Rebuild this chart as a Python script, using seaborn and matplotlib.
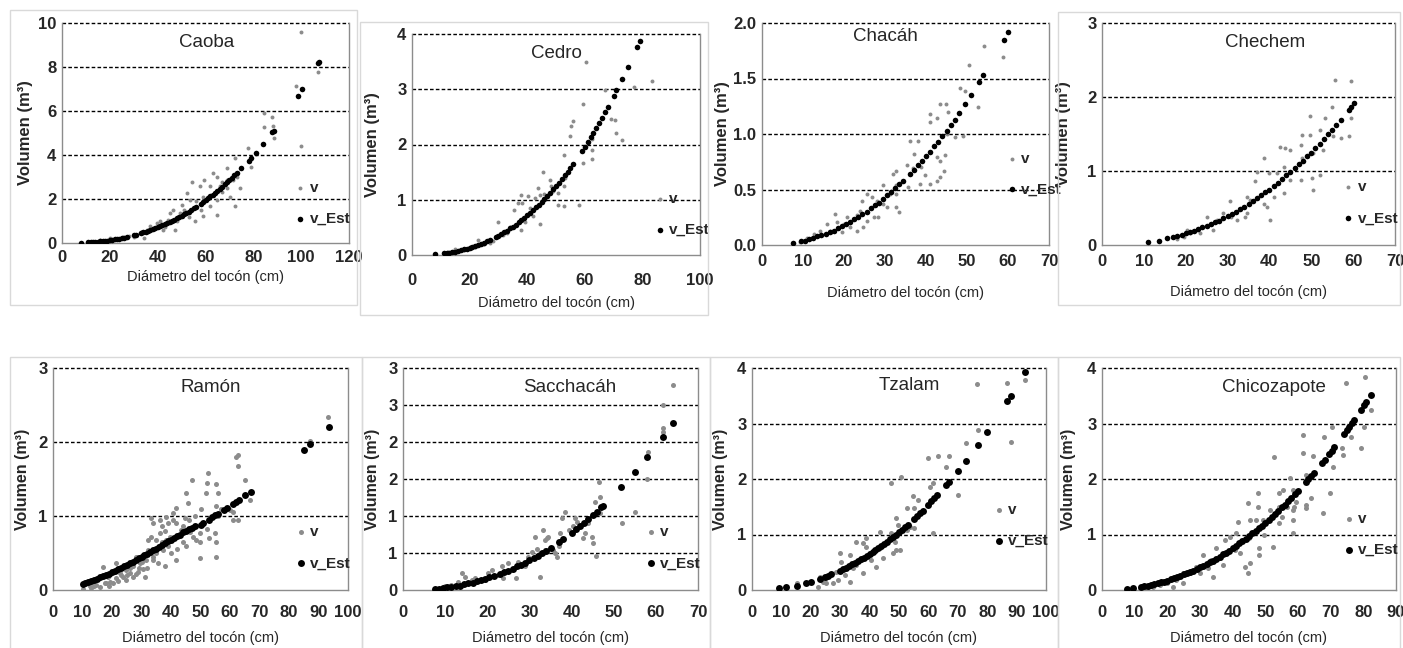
import seaborn as sns
import matplotlib.pyplot as plt
from matplotlib.patches import Rectangle

sns.set_style("white")
plt.rcParams['font.family'] = ['Liberation Sans', 'DejaVu Sans']

# ---------------- Caoba
caoba_d = [100.1, 107.1, 98, 100.1, 88.3, 88, 84.6, 88.6, 84.6, 77.9, 78.9, 74.4, 72.3, 68.8, 68.8, 72.3,
           70.2, 64.7, 61.9, 59.4, 59.1, 63.3, 66.1, 54.2, 53.5, 52.2, 55.6, 50.1, 52.2, 46.6, 44.5, 42.4,
           41, 36.9, 32.7, 34.1, 35.5, 39.6, 47.3, 45.2, 49.4, 57.7, 61.2, 64.7, 66.8, 71.6, 59.1, 25.7,
           23, 16, 20.2, 28, 30, 33, 38, 40, 43, 48, 51, 53, 56, 58, 62, 65, 67, 69, 73, 12, 14, 18]
caoba_v = [9.59, 7.78, 7.13, 4.41, 5.32, 5.74, 5.89, 4.76, 5.29, 4.3, 3.47, 2.49, 3.85, 3.4, 2.87, 1.66,
           2.11, 1.28, 1.66, 2.87, 2.11, 3.17, 2.57, 2.79, 1.96, 2.27, 0.98, 1.74, 1.36, 1.51, 1.06, 0.6,
           0.98, 0.76, 0.45, 0.23, 0.6, 0.91, 0.6, 1.36, 1.36, 2.57, 2.11, 1.96, 2.79, 2.87, 1.21, 0.27,
           0.18, 0.12, 0.23, 0.3, 0.28, 0.5, 0.65, 0.8, 0.75, 1.0, 1.5, 1.2, 1.9, 1.5, 2.6, 3.0, 2.3, 2.5,
           3.0, 0.02, 0.05, 0.09]
caoba_est_d = [8, 11, 12, 13, 14, 15, 16, 17, 18, 19, 20, 21, 22, 23, 24, 25, 26, 27, 30, 31,
               33, 34, 35, 36, 37, 38, 39, 40, 41, 42, 43, 44, 45, 46, 47, 48, 49, 50, 51, 52, 53, 54, 55, 56,
               58, 59, 60, 61, 62, 63, 64, 65, 66, 67, 68, 69, 70, 71, 72, 73,
               75, 78, 79, 81, 84, 88, 88.5, 98.5, 100.5, 107, 107.3]
caoba_est_v = [0.01, 0.03, 0.04, 0.04, 0.05, 0.06, 0.07, 0.09, 0.10, 0.11, 0.13, 0.14, 0.16, 0.18, 0.20,
               0.22, 0.25, 0.27, 0.35, 0.38,
               0.44, 0.48, 0.51, 0.55, 0.59, 0.63, 0.67, 0.71, 0.76, 0.81, 0.85, 0.90, 0.96, 1.01, 1.06,
               1.12, 1.18, 1.24, 1.30, 1.37, 1.43, 1.50, 1.57, 1.64,
               1.79, 1.87, 1.95, 2.03, 2.12, 2.20, 2.29, 2.38, 2.47, 2.56, 2.66, 2.76, 2.86, 2.96, 3.07, 3.17,
               3.39, 3.74, 3.86, 4.11, 4.49, 5.04, 5.11, 6.67, 7.01, 8.19, 8.25]

# ---------------- Cedro
cedro_d = [60.3, 83.2, 77.1, 67, 59.4, 69.1, 70.5, 71, 72.8, 62.6, 62.6, 62.6, 59.4, 56, 55.2, 54.8,
           52.8, 53, 52.8, 50.7, 50.7, 52.8, 58, 45.5, 47.9, 43.6, 44.4, 42.6, 40.3, 38, 36.8, 35.4,
           38.1, 42, 44.4, 39.4, 37.8, 32.4, 29.9, 31.6, 28.2, 23, 20, 14.8, 12.5, 48.2,
           18, 22, 25, 27, 33, 34, 36, 41, 46, 49]
cedro_v = [3.5, 3.15, 3.04, 2.99, 2.73, 2.46, 2.45, 2.2, 2.08, 2.1, 1.9, 1.73, 1.66, 2.42, 2.34, 2.16,
           1.81, 1.39, 1.24, 1.12, 0.91, 0.89, 0.91, 1.51, 1.36, 1.22, 1.09, 1.03, 1.06, 1.09, 0.94, 0.82,
           0.94, 0.71, 0.57, 0.59, 0.45, 0.42, 0.6, 0.36, 0.26, 0.28, 0.15, 0.10, 0.06, 1.24,
           0.09, 0.15, 0.2, 0.22, 0.4, 0.5, 0.55, 0.85, 1.1, 1.15]
cedro_est_d = [8, 11, 12, 13, 14, 15, 16, 17, 18, 19, 20, 21, 22, 23, 24, 25, 26, 27,
               29, 30, 31, 32, 33, 34, 35, 36, 37, 38, 39, 40, 41, 42, 43, 44, 45, 46, 47, 48, 49, 50,
               51, 52, 53, 54, 55, 56,
               59, 60, 61, 62, 63, 64, 65, 66, 67, 68, 70, 71, 73, 75, 78, 79]
cedro_est_v = [0.01, 0.03, 0.04, 0.04, 0.05, 0.06, 0.07, 0.09, 0.10, 0.11, 0.13, 0.15, 0.16, 0.18, 0.20,
               0.22, 0.25, 0.27,
               0.32, 0.35, 0.38, 0.41, 0.44, 0.48, 0.51, 0.55, 0.59, 0.63, 0.67, 0.72, 0.76, 0.81, 0.86,
               0.91, 0.96, 1.01, 1.07, 1.13, 1.19, 1.25, 1.31, 1.37, 1.44, 1.51, 1.58, 1.65,
               1.88, 1.96, 2.04, 2.13, 2.21, 2.30, 2.39, 2.48, 2.58, 2.67, 2.87, 2.98, 3.19, 3.41, 3.76, 3.88]

# ---------------- Chacáh
chacah_d = [58.8, 54.1, 50.5, 52.7, 48.3, 49.5, 49.1, 47, 44.4, 44.6,
            45.2, 44.9, 42.6, 41, 41, 43.4, 45.4, 38.1, 37.1, 36.1,
            38.9, 39.7, 41, 42.6, 43.4, 43.4, 42.6, 32.8, 31.9, 32.8,
            33.3, 32.8, 31.2, 29.6, 28, 26.8, 25.5, 24.3, 23.8, 23.1,
            25.5, 27.2, 20.7, 19.9, 18.2, 17.8, 15.8, 14.2, 16.6, 21.5,
            23.1, 12.6, 10.9, 9.3, 32.8, 29.6, 35.7, 35.3, 36.9, 38.5,
            28.4, 30.4, 24.7, 19.5]
chacah_v = [1.69, 1.79, 1.62, 1.24, 1.41, 1.39, 0.98, 0.97, 0.67, 0.81,
            1.0, 1.27, 1.14, 1.18, 1.11, 1.27, 1.2, 0.94, 0.82, 0.94,
            0.70, 0.63, 0.55, 0.58, 0.61, 0.76, 0.79, 0.67, 0.64, 0.54,
            0.3, 0.34, 0.46, 0.37, 0.4, 0.43, 0.46, 0.4, 0.31, 0.27,
            0.22, 0.25, 0.25, 0.19, 0.21, 0.28, 0.19, 0.13, 0.13, 0.16,
            0.13, 0.1, 0.06, 0.03, 0.46, 0.54, 0.52, 0.72, 0.69, 0.55,
            0.25, 0.34, 0.16, 0.12]
chacah_est_d = [7.5, 9.5, 10.5, 11.5, 12.5, 13.5, 14.5, 15.5, 16.5, 17.5, 18.5, 19.5, 20.5, 21.5, 22.5,
                23.5, 24.5, 25.5, 26.5, 27.5, 28.5, 29.5, 30.5, 31.5, 32.5, 33.5, 34.5,
                36, 37, 38, 39, 40, 41, 42, 43, 44, 45, 46, 47, 48,
                49.5, 51, 53, 54, 59, 60]
chacah_est_v = [0.02, 0.04, 0.04, 0.05, 0.06, 0.08, 0.09, 0.10, 0.12, 0.13, 0.15, 0.17, 0.19, 0.21, 0.23,
                0.25, 0.28, 0.30, 0.33, 0.36, 0.38, 0.41, 0.45, 0.48, 0.51, 0.55, 0.58,
                0.64, 0.68, 0.72, 0.76, 0.80, 0.84, 0.89, 0.93, 0.98, 1.03, 1.08, 1.13, 1.19,
                1.27, 1.35, 1.47, 1.53, 1.85, 1.92]

# ---------------- Chechem
chechem_d = [55.7, 59.4, 54.9, 59.4, 49.7, 53.3, 52, 55.3, 58.9, 57.1,
             49.7, 52.9, 50.5, 47.7, 47.5, 47.7, 47.5, 50.5, 52, 50.1,
             42.6, 43.8, 45, 38.8, 39.8, 37, 41, 39.4, 38.6, 40.2,
             43.4, 45, 43.4, 36.6, 34.6, 33.8, 34.6, 34.2, 30.6, 29,
             30.9, 27.4, 25.9, 25.1, 23.9, 22.7, 21.1, 19.5, 17.9, 20.3,
             23.5, 26.6, 32.2, 35.4, 41.8]
chechem_v = [2.23, 2.22, 1.86, 1.72, 1.75, 1.72, 1.56, 1.47, 1.47, 1.44,
             1.49, 1.29, 1.24, 1.49, 1.35, 1.17, 0.88, 0.74, 0.95, 0.9,
             1.33, 1.31, 1.29, 1.17, 0.97, 0.99, 0.65, 0.52, 0.56, 0.34,
             0.70, 0.88, 1.06, 0.86, 0.65, 0.52, 0.43, 0.38, 0.59, 0.43,
             0.38, 0.34, 0.29, 0.38, 0.25, 0.20, 0.16, 0.11, 0.08, 0.20,
             0.16, 0.20, 0.34, 0.61, 0.97]
chechem_est_d = [11, 13.5, 15.5, 17, 18, 19, 20, 21, 22, 23, 24, 25, 26, 27, 28, 29, 30, 31, 32, 33, 34,
                 35, 36, 37, 38, 39, 40, 41, 42, 43, 44, 45, 46, 47, 48, 49, 50, 51, 52, 53, 54, 55, 56,
                 57, 59, 59.5, 60.3]
chechem_est_v = [0.04, 0.06, 0.09, 0.11, 0.12, 0.14, 0.16, 0.17, 0.19, 0.21, 0.24, 0.26, 0.28, 0.31, 0.33,
                 0.36, 0.39, 0.42, 0.45, 0.49, 0.52, 0.56, 0.59, 0.63, 0.67, 0.71, 0.75, 0.80, 0.84, 0.89,
                 0.94, 0.99, 1.04, 1.09, 1.14, 1.20, 1.25, 1.31, 1.37, 1.43, 1.50, 1.56, 1.62, 1.69,
                 1.83, 1.86, 1.92]

# ---------------- Ramón
ramon_d = [93.2, 87, 62.1, 62.7, 62.7, 65, 66.7, 62.7, 61, 52.5,
           52.2, 51.8, 55.4, 55.9, 55.4, 55.4, 55.4, 54.8, 52.1, 49.7,
           49.7, 47.2, 45.2, 45.8, 44.6, 44.1, 46.3, 41.8, 40.7, 41.8,
           41.8, 39.5, 39, 40.1, 37.9, 37.3, 38.4, 36.2, 36.2, 35,
           33.9, 33.3, 32.2, 32.2, 35, 33.9, 35.6, 31.6, 30.5, 28.2,
           29.4, 27.1, 26, 27.1, 24.9, 23.7, 21.5, 21.5, 19.2, 16.9,
           17.5, 14.7, 12.4, 10.2, 11.3, 15.3, 18.6, 20.3, 22.6, 24.9,
           28.8, 31.1, 33.3, 36.8, 38.4, 40.7, 43.5, 47.5, 33.3, 45.2,
           49.7, 54.2, 59.9, 61, 48.6,
           13, 14, 16, 18, 19, 22, 23, 25, 26, 28, 29, 30, 32,
           34, 36, 37, 38, 39, 42, 44, 46, 48, 50, 53, 56, 57]
ramon_v = [2.34, 2.02, 1.80, 1.83, 1.67, 1.49, 1.22, 0.95, 1.06, 1.58,
           1.44, 1.31, 1.43, 1.31, 1.13, 0.65, 0.45, 0.77, 0.83, 0.65,
           0.43, 1.49, 1.31, 1.17, 0.97, 0.86, 0.79, 1.11, 0.95, 0.90,
           0.41, 0.72, 0.59, 0.50, 0.32, 0.54, 0.68, 0.95, 0.77, 0.68,
           0.90, 0.72, 0.68, 0.54, 0.50, 0.41, 0.36, 0.41, 0.29, 0.45,
           0.36, 0.32, 0.23, 0.18, 0.27, 0.18, 0.36, 0.16, 0.11, 0.31,
           0.09, 0.07, 0.05, 0.02, 0.09, 0.16, 0.18, 0.09, 0.23, 0.14,
           0.25, 0.18, 0.50, 0.86, 0.99, 1.04, 0.81, 0.72, 0.97, 0.59,
           0.77, 0.99, 1.08, 0.95, 0.68,
           0.03, 0.06, 0.04, 0.1, 0.05, 0.12, 0.2, 0.2, 0.3, 0.22, 0.3, 0.38, 0.3,
           0.45, 0.6, 0.65, 0.8, 0.9, 0.55, 0.65, 0.95, 1.0, 1.1, 0.7, 1.0, 1.1]
ramon_est_d = [10, 11, 12, 13, 14, 15, 16, 17, 18, 19, 20, 21, 22, 23, 24, 25, 26, 27, 28, 29,
               30, 31, 32, 33, 34, 35, 36, 37, 38, 39, 40, 41, 42, 43, 44, 45, 46, 47, 48,
               50, 51, 53, 54, 55, 56, 58, 59, 61, 62, 63, 65, 67, 85, 87, 93.5]
ramon_est_v = [0.08, 0.09, 0.11, 0.12, 0.14, 0.15, 0.17, 0.19, 0.20, 0.22,
               0.24, 0.26, 0.28, 0.30, 0.32, 0.34, 0.36, 0.38, 0.40, 0.43,
               0.45, 0.47, 0.49, 0.51, 0.54, 0.56, 0.58, 0.61, 0.63, 0.66,
               0.68, 0.70, 0.73, 0.75, 0.78, 0.80, 0.82, 0.84, 0.86,
               0.88, 0.91, 0.95, 0.98, 1.01, 1.03, 1.08, 1.11, 1.16, 1.19, 1.21, 1.28, 1.33, 1.89, 1.97, 2.20]

# ---------------- Sacchacáh
sacchacah_d = [64, 61.8, 61.8, 61.6, 58.1, 57.9, 55, 51.9, 46.4, 46.8,
               46.8, 45.6, 45.8, 44.8, 45, 42.8, 40.8, 41.2, 40.8, 38.5,
               37.7, 37.3, 36.9, 36.5, 35.7, 34.3, 33.7, 33.7, 32.5, 31.3,
               31.7, 30.5, 29.7, 28.9, 27.4, 26.9, 25.8, 25, 23.4, 23.8,
               22.6, 21, 20.2, 19.4, 17, 16.3, 14.7, 13.9, 13.1, 11.5,
               9.9, 32.5, 34.1, 33.3, 36.1, 39.3, 40.4, 43.2, 44]
sacchacah_v = [2.77, 2.50, 2.19, 2.14, 1.86, 1.50, 1.06, 0.90, 1.46, 1.26,
               1.04, 1.19, 0.46, 0.72, 0.63, 0.70, 0.97, 0.92, 0.81, 1.06,
               0.97, 0.77, 0.59, 0.45, 0.54, 0.72, 0.68, 0.54, 0.50, 0.72,
               0.56, 0.52, 0.45, 0.32, 0.38, 0.16, 0.27, 0.36, 0.32, 0.16,
               0.20, 0.27, 0.23, 0.14, 0.16, 0.14, 0.18, 0.23, 0.11, 0.07,
               0.05, 0.18, 0.70, 0.81, 0.50, 0.81, 0.86, 0.77, 0.90]
sacchacah_est_d = [7.5, 8.5, 9.5, 10.5, 11.5, 12.5, 13.5, 14.5, 15.5, 16.5, 17.5, 18.5, 19.5, 20.5, 21.5,
                   23, 24, 25, 26, 27, 28, 29, 30, 31, 32, 33, 34, 35, 37, 38,
                   40, 41, 42, 43, 44, 45, 46, 47, 47.5, 51.8, 55, 58, 61.6, 64]
sacchacah_est_v = [0.02, 0.02, 0.03, 0.04, 0.04, 0.05, 0.06, 0.08, 0.09, 0.10, 0.12, 0.13, 0.15, 0.17, 0.19,
                   0.22, 0.24, 0.26, 0.29, 0.32, 0.34, 0.37, 0.40, 0.43, 0.46, 0.50, 0.53, 0.57, 0.65, 0.69,
                   0.77, 0.82, 0.86, 0.91, 0.96, 1.01, 1.06, 1.12, 1.14, 1.39, 1.60, 1.80, 2.07, 2.26]

# ---------------- Tzalam
tzalam_d = [76.7, 86.8, 92.8, 88.1, 77, 72.8, 67.1, 66, 63.3, 59.9,
            60.5, 61.6, 69.9, 61.4, 47.4, 50.8, 54.8, 56.5, 55, 52.6,
            53.7, 52.6, 55, 49.1, 49.7, 47.4, 48.6, 49.1, 48, 50.3,
            43.5, 43.5, 42.3, 44.6, 40.1, 38.9, 38.9, 37.6, 35.5, 33.3,
            35.5, 37.8, 33.3, 31.6, 30.4, 29.9, 29.3, 27.6, 25.3, 24.2,
            22.5, 25.3, 23, 19.6, 15.3, 11.5, 28.7, 34.4, 37.2, 40.6]
tzalam_v = [3.71, 3.73, 3.78, 2.67, 2.89, 2.64, 2.41, 2.22, 2.41, 2.38,
            1.86, 1.92, 1.71, 1.03, 1.93, 2.04, 1.70, 1.62, 1.47, 1.47,
            1.14, 1.08, 1.11, 1.29, 1.17, 1.02, 0.87, 0.72, 0.66, 0.72,
            1.05, 0.75, 0.42, 0.57, 0.66, 0.78, 0.93, 0.84, 0.87, 0.63,
            0.45, 0.30, 0.15, 0.27, 0.51, 0.66, 0.18, 0.12, 0.12, 0.15,
            0.06, 0.21, 0.24, 0.15, 0.12, 0.06, 0.33, 0.39, 0.54, 0.54]
tzalam_est_d = [9.2, 11.5, 15.3, 18.5, 20.2, 23, 24.7, 25.9, 27,
                30, 31, 32, 33, 34, 35, 36, 37, 38, 39, 40, 41, 42, 43, 44, 45, 46, 47, 48, 49, 50, 51, 52, 53,
                55, 56, 57, 58, 60, 61, 62, 63, 66, 67, 70.1, 72.7, 76.9, 79.8, 86.8, 88, 92.8]
tzalam_est_v = [0.03, 0.05, 0.08, 0.12, 0.15, 0.20, 0.23, 0.26, 0.28,
                0.35, 0.38, 0.40, 0.43, 0.46, 0.49, 0.52, 0.55, 0.58, 0.61, 0.65, 0.68, 0.72, 0.76, 0.80,
                0.83, 0.87, 0.92, 0.96, 1.00, 1.04, 1.09, 1.14, 1.18,
                1.28, 1.33, 1.38, 1.43, 1.54, 1.60, 1.65, 1.71, 1.89, 1.95, 2.15, 2.33, 2.62, 2.84, 3.40,
                3.50, 3.92]

# ---------------- Chicozapote
chicozapote_d = [74.8, 80.4, 82.2, 80.2, 79.2, 76.1, 73.8, 73.6, 70.4, 68,
                 70.6, 69.7, 67.5, 61.4, 61.4, 64.5, 62.4, 64, 62.4, 62.4,
                 57.6, 58.4, 59.4, 58.8, 58.4, 58.4, 58.6, 54.1, 55.3, 54.3,
                 55.1, 54.3, 52.5, 52.3, 49.7, 47.7, 47.7, 47.2, 48, 48,
                 45.2, 44.7, 45, 45.2, 44.7, 43.7, 41.6, 41.1, 42.1, 39.1,
                 37.6, 38.1, 37.1, 35, 33.5, 34, 31, 30, 28.9, 26.9,
                 24.9, 24.9, 22.8, 21.8, 19.8, 17.8, 15.7, 13.7, 11.7, 32.5,
                 36, 40.6, 49.2, 51.3, 56.5]
chicozapote_v = [3.73, 3.83, 3.25, 2.93, 2.55, 2.76, 2.43, 2.55, 2.93, 2.76,
                 2.22, 1.74, 1.38, 2.79, 2.47, 2.41, 2.07, 1.65, 1.53, 1.47,
                 2.01, 1.81, 1.59, 1.50, 1.44, 1.26, 1.02, 1.74, 1.80, 1.50,
                 1.32, 1.20, 2.39, 0.78, 0.99, 1.74, 1.50, 1.26, 0.75, 0.63,
                 1.26, 1.56, 0.93, 0.48, 0.30, 0.42, 1.23, 1.02, 0.66, 0.96,
                 0.90, 0.66, 0.45, 0.75, 0.54, 0.24, 0.63, 0.30, 0.42, 0.30,
                 0.12, 0.30, 0.18, 0.06, 0.12, 0.09, 0.06, 0.03, 0.03, 0.39,
                 0.57, 0.72, 1.26, 1.44, 1.50]
chicozapote_est_d = [7.8, 9.6, 12, 13, 14, 15, 16, 17, 18, 19, 20, 21, 22, 23, 24, 25, 26, 27, 28, 29, 30, 31,
                     32, 33, 34, 35, 36, 37, 38, 39, 40, 41, 42, 43, 44, 45, 46, 47, 48, 49, 50, 51,
                     52, 53, 54, 55, 56, 57, 58, 59, 60,
                     62.4, 63.2, 64, 65, 67.3, 68.2, 69.5, 70.3, 71.1, 74.1, 75, 75.6, 76.5, 77.2, 79.2, 80.2,
                     80.8, 82.2]
chicozapote_est_v = [0.02, 0.04, 0.06, 0.07, 0.08, 0.09, 0.11, 0.12, 0.14, 0.15, 0.17, 0.19,
                     0.21, 0.23, 0.25, 0.28, 0.30, 0.32, 0.35, 0.38, 0.41, 0.44,
                     0.47, 0.50, 0.53, 0.56, 0.60, 0.64, 0.67, 0.71, 0.75, 0.79,
                     0.84, 0.88, 0.92, 0.97, 1.02, 1.06, 1.11, 1.16, 1.21, 1.27,
                     1.32, 1.37, 1.43, 1.49, 1.54, 1.60, 1.66, 1.73, 1.79,
                     1.95, 2.00, 2.06, 2.11, 2.29, 2.35, 2.45, 2.51, 2.57, 2.81, 2.89, 2.94, 3.01, 3.07,
                     3.24, 3.33, 3.39, 3.51]

W, H = 1403, 648
fig = plt.figure(figsize=(W / 100, H / 100), dpi=100)

# chart-area frames (pixels: x0, y0, x1, y1)
frames = [(10, 10, 357, 305), (360, 22, 708, 315), (1058, 12, 1400, 305),
          (10, 357, 362, 660), (362, 357, 710, 660), (710, 357, 1058, 660), (1058, 357, 1400, 660)]
for x0, y0, x1, y1 in frames:
    fig.add_artist(Rectangle((x0 / W, 1 - y1 / H), (x1 - x0) / W, (y1 - y0) / H,
                             transform=fig.transFigure, fill=False, ec='#d9d9d9', lw=1))

# box = plot area in pixels (left, top, right, bottom); xpad = tick label pad (pt);
# xlab / ylab = axis-label positions in axes fraction
panels = [
    dict(title='Caoba', d=caoba_d, v=caoba_v, ed=caoba_est_d, ev=caoba_est_v,
         box=(62, 23, 349, 243), xmax=120, xstep=20, yt=[0, 2, 4, 6, 8, 10], yl=None,
         tpos=(0.505, 0.91), leg=(0.815, 0.18), top=True, xpad=5, xlab=-0.125, ylab=-0.10),
    dict(title='Cedro', d=cedro_d, v=cedro_v, ed=cedro_est_d, ev=cedro_est_v,
         box=(412, 34, 700, 255), xmax=100, xstep=20, yt=[0, 1, 2, 3, 4], yl=None,
         tpos=(0.50, 0.91), leg=(0.845, 0.185), top=True, xpad=13, xlab=-0.185, ylab=-0.11),
    dict(title='Chacáh', d=chacah_d, v=chacah_v, ed=chacah_est_d, ev=chacah_est_v,
         box=(762, 23, 1049, 245), xmax=70, xstep=10, yt=[0, 0.5, 1.0, 1.5, 2.0],
         yl=['0.0', '0.5', '1.0', '1.5', '2.0'],
         tpos=(0.43, 0.94), leg=(0.855, 0.32), top=True, xpad=6.5, xlab=-0.185, ylab=-0.11),
    dict(title='Chechem', d=chechem_d, v=chechem_v, ed=chechem_est_d, ev=chechem_est_v,
         box=(1102, 23, 1395, 245), xmax=70, xstep=10, yt=[0, 1, 2, 3], yl=None,
         tpos=(0.556, 0.91), leg=(0.825, 0.19), top=True, xpad=6.5, xlab=-0.18, ylab=-0.105),
    dict(title='Ramón', d=ramon_d, v=ramon_v, ed=ramon_est_d, ev=ramon_est_v,
         box=(53, 368, 348, 590), xmax=100, xstep=10, yt=[0, 1, 2, 3], yl=None,
         tpos=(0.535, 0.91), leg=(0.825, 0.19), top=False, xpad=11, xlab=-0.185, ylab=-0.078),
    dict(title='Sacchacáh', d=sacchacah_d, v=sacchacah_v, ed=sacchacah_est_d, ev=sacchacah_est_v,
         box=(403, 368, 698, 590), xmax=70, xstep=10, yt=[0, 0.5, 1.0, 1.5, 2.0, 2.5, 3.0],
         yl=['0', '1', '1', '2', '2', '3', '3'],
         tpos=(0.566, 0.91), leg=(0.825, 0.19), top=False, xpad=11, xlab=-0.185, ylab=-0.078),
    dict(title='Tzalam', d=tzalam_d, v=tzalam_v, ed=tzalam_est_d, ev=tzalam_est_v,
         box=(752, 368, 1046, 590), xmax=100, xstep=10, yt=[0, 1, 2, 3, 4], yl=None,
         tpos=(0.534, 0.92), leg=(0.825, 0.29), top=False, xpad=11, xlab=-0.185, ylab=-0.082),
    dict(title='Chicozapote', d=chicozapote_d, v=chicozapote_v, ed=chicozapote_est_d, ev=chicozapote_est_v,
         box=(1102, 368, 1396, 590), xmax=90, xstep=10, yt=[0, 1, 2, 3, 4], yl=None,
         tpos=(0.585, 0.91), leg=(0.825, 0.25), top=False, xpad=11, xlab=-0.185, ylab=-0.088),
]

for p in panels:
    l, t, r, b = p['box']
    ax = fig.add_axes([l / W, 1 - b / H, (r - l) / W, (b - t) / H])
    s_v, s_e = (8, 16) if p['top'] else (13, 25)
    sns.scatterplot(x=p['d'], y=p['v'], ax=ax, color='#8c8c8c', s=s_v, linewidth=0, label='v', zorder=3)
    sns.scatterplot(x=p['ed'], y=p['ev'], ax=ax, color='black', s=s_e, linewidth=0, label='v_Est', zorder=4)

    ax.set_xlim(0, p['xmax'])
    ax.set_xticks(list(range(0, p['xmax'] + 1, p['xstep'])))
    ax.set_ylim(0, p['yt'][-1])
    ax.set_yticks(p['yt'])
    if p['yl'] is not None:
        ax.set_yticklabels(p['yl'])
    for yv in p['yt'][1:]:
        ax.axhline(yv, color='black', lw=1.0, ls=(0, (2.6, 1.6)), zorder=2, clip_on=False)

    for side in ['left', 'bottom', 'right']:
        ax.spines[side].set_color('#8c8c8c')
        ax.spines[side].set_linewidth(1.0)
    ax.spines['top'].set_visible(False)
    ax.tick_params(axis='x', length=0, labelsize=12, pad=p['xpad'])
    ax.tick_params(axis='y', length=0, labelsize=12, pad=4)
    for lab in ax.get_xticklabels() + ax.get_yticklabels():
        lab.set_fontweight('bold')

    ax.text(p['tpos'][0], p['tpos'][1], p['title'], transform=ax.transAxes,
            ha='center', va='center', fontsize=13.5)
    ax.set_xlabel('Diámetro del tocón (cm)', fontsize=10.5)
    ax.xaxis.set_label_coords(0.5, p['xlab'])
    ax.set_ylabel('Volumen (m³)', fontsize=12 if p['top'] else 11.5, fontweight='bold')
    ax.yaxis.set_label_coords(p['ylab'], 0.5)

    ax.legend(loc='center left', bbox_to_anchor=p['leg'], frameon=False, handlelength=0.6,
              handletextpad=0.3, labelspacing=1.1, borderpad=0, borderaxespad=0,
              prop={'weight': 'bold', 'size': 11})

plt.savefig('out.png', dpi=100)
